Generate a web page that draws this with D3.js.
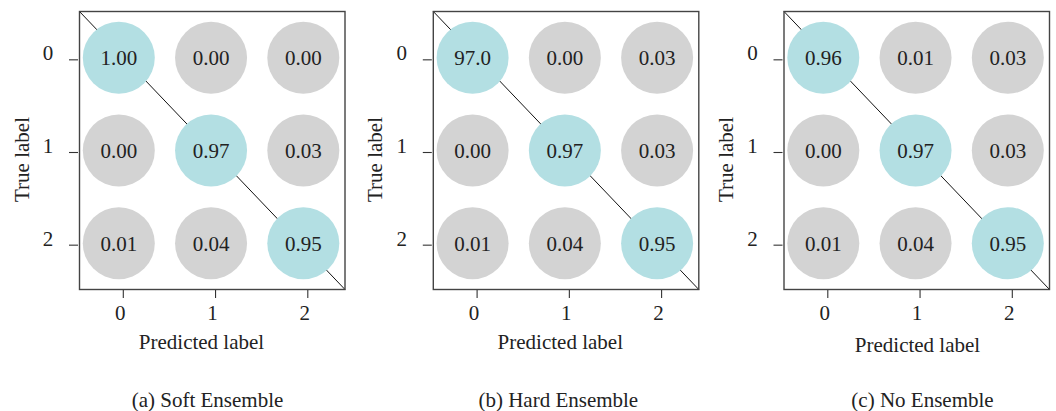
<!DOCTYPE html>
<html>
<head>
<meta charset="utf-8">
<script src="https://cdn.jsdelivr.net/npm/d3@7"></script>
<style>
  html, body { margin: 0; padding: 0; background: #fff; }
  svg { display: block; }
  text { font-family: "Liberation Serif", "Times New Roman", serif; fill: #222; }
</style>
</head>
<body>
<script>
// ---- data ----
const classes = [0, 1, 2];
const captions = ["(a) Soft Ensemble", "(b) Hard Ensemble", "(c) No Ensemble"];
const xTitle = "Predicted label";
const yTitle = "True label";
const softValues = [[1.00, 0.00, 0.00], [0.00, 0.97, 0.03], [0.01, 0.04, 0.95]];
const hardValues = [[97.0, 0.00, 0.03], [0.00, 0.97, 0.03], [0.01, 0.04, 0.95]];
const noneValues = [[0.96, 0.01, 0.03], [0.00, 0.97, 0.03], [0.01, 0.04, 0.95]];
const matrices = [softValues, hardValues, noneValues];

// ---- layout ----
const W = 1056, H = 411;
const frameLefts = [79.5, 433.3, 784];
const frameTop = 11.5, frameW = 265.5, frameH = 278;
const xTitleCenter = [122, 127, 133.5];
const xTitleBase = [349, 348.5, 351.5];
const captionCenter = [128, 125, 138.5];
const captionBase = 406.5;
const fontSize = 21;
const diagColor = "#b3dfe3", offColor = "#d3d3d3";

const svg = d3.select("body").append("svg").attr("width", W).attr("height", H);
svg.append("rect").attr("width", W).attr("height", H).attr("fill", "#fff");

const x = d3.scaleLinear().domain([-0.426, 2.452]).range([0, frameW]);
const y = d3.scaleLinear().domain([-0.5, 2.5]).range([0, frameH]);
const fmt = v => v >= 10 ? v.toFixed(1) : v.toFixed(2);

matrices.forEach((mat, p) => {
  const g = svg.append("g").attr("transform", `translate(${frameLefts[p]},${frameTop})`);

  // diagonal line
  g.append("line")
    .attr("x1", x(-0.426)).attr("y1", y(-0.5))
    .attr("x2", x(2.452)).attr("y2", y(2.5))
    .attr("stroke", "#111").attr("stroke-width", 1);

  const cells = [];
  mat.forEach((row, i) => row.forEach((v, j) => cells.push({ i, j, v })));

  g.selectAll("circle.cell").data(cells).join("circle")
    .attr("class", "cell")
    .attr("cx", d => x(d.j)).attr("cy", d => y(d.i))
    .attr("r", 36)
    .attr("fill", d => d.i === d.j ? diagColor : offColor);

  g.selectAll("text.cell").data(cells).join("text")
    .attr("class", "cell")
    .attr("x", d => x(d.j)).attr("y", d => y(d.i))
    .attr("dy", "0.35em")
    .attr("text-anchor", "middle")
    .style("font-size", fontSize + "px")
    .text(d => fmt(d.v));

  // frame
  g.append("rect")
    .attr("x", 0).attr("y", 0).attr("width", frameW).attr("height", frameH)
    .attr("fill", "none").attr("stroke", "#444").attr("stroke-width", 1.4);

  // y axis
  const ya = g.append("g").attr("transform", "translate(-1.5,0)")
    .call(d3.axisLeft(y).tickValues(classes).tickSize(9).tickFormat(d3.format("d")));
  ya.select(".domain").remove();
  ya.selectAll(".tick line").attr("stroke", "#333").attr("stroke-width", 1.1).attr("transform", "translate(0,1.5)");
  ya.selectAll(".tick text").attr("dy", "0.1em").attr("x", -30)
    .attr("text-anchor", "middle")
    .style("font-size", fontSize + "px").style("font-family", '"Liberation Serif", serif').attr("fill", "#222");

  // x axis
  const xa = g.append("g").attr("transform", `translate(0,${frameH + 0.5})`)
    .call(d3.axisBottom(x).tickValues(classes).tickSize(8).tickFormat(d3.format("d")));
  xa.select(".domain").remove();
  xa.selectAll(".tick line").attr("stroke", "#333").attr("stroke-width", 1.1).attr("transform", "translate(4,0)");
  xa.selectAll(".tick text").attr("y", 30).attr("dy", 0).attr("x", 1)
    .style("font-size", fontSize + "px").style("font-family", '"Liberation Serif", serif').attr("fill", "#222");

  // axis titles
  g.append("text")
    .attr("x", xTitleCenter[p]).attr("y", xTitleBase[p] - frameTop)
    .attr("text-anchor", "middle")
    .style("font-size", fontSize + "px")
    .text(xTitle);

  g.append("text")
    .attr("transform", `translate(-51,${frameH / 2 + 9}) rotate(-90)`)
    .attr("text-anchor", "middle")
    .style("font-size", fontSize + "px")
    .text(yTitle);

  // caption
  g.append("text")
    .attr("x", captionCenter[p]).attr("y", captionBase - frameTop)
    .attr("text-anchor", "middle")
    .style("font-size", fontSize + "px")
    .text(captions[p]);
});
</script>
</body>
</html>
